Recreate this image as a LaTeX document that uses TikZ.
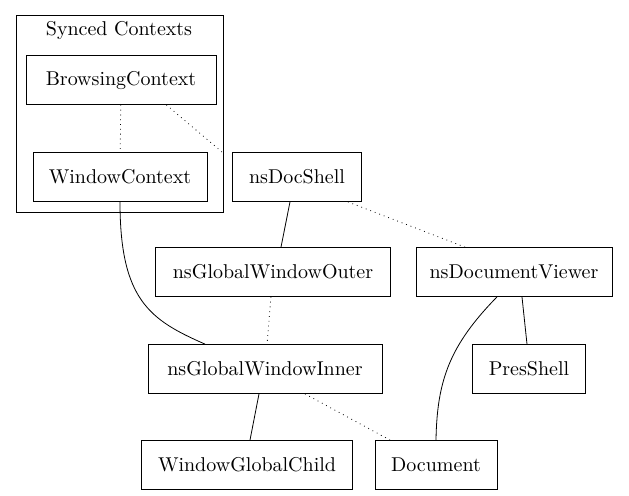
\documentclass[tikz,border=0pt]{standalone}
\usetikzlibrary{positioning}
\tikzset{
  box/.style={draw, rectangle, inner sep=0pt, minimum height=24.5pt},
  dot/.style={dotted, thin},
  solid line/.style={thin}
}
\begin{document}
\begin{tikzpicture}[x=0.5pt, y=-0.5pt]
  \useasboundingbox (0,0) rectangle (629,495);

  % cluster
  \draw (16,15) rectangle (223,212);
  \node (title) at (119,30) {Synced Contexts};

  \node[box, minimum width=95pt] (bc) at (121,80) {BrowsingContext};
  \node[box, minimum width=87pt] (wc) at (120,177) {WindowContext};
  \node[box, minimum width=64.5pt] (ds) at (297,177) {nsDocShell};
  \node[box, minimum width=117.5pt] (outer) at (273,272) {nsGlobalWindowOuter};
  \node[box, minimum width=98pt] (dv) at (514,272) {nsDocumentViewer};
  \node[box, minimum width=117pt] (inner) at (265,369) {nsGlobalWindowInner};
  \node[box, minimum width=56.5pt] (ps) at (529,369) {PresShell};
  \node[box, minimum width=105.5pt] (wgc) at (247,465) {WindowGlobalChild};
  \node[box, minimum width=61pt] (doc) at (436,465) {Document};

  \draw[dot] (bc) -- (wc);
  \draw[dot] (bc.south east) ++(-50,0) -- ([xshift=-5pt]ds.north west);
  \draw[dot] ([xshift=-7pt]ds.south east) -- (dv.north west -| 465,0);
  \draw (ds.south -| 290,0) -- (outer.north -| 281,0);
  \draw (wc.south) .. controls (120,300) and (150,320) .. (inner.north -| 205,0);
  \draw[dot] (outer) -- (inner);
  \draw (dv.south -| 497,0) .. controls (450,345) and (437,380) .. (doc.north);
  \draw (dv.south -| 522,0) -- (ps.north -| 527,0);
  \draw (inner.south -| 259,0) -- (wgc.north -| 250,0);
  \draw[dot] (inner.south -| 305,0) -- (doc.north -| 390,0);
\end{tikzpicture}
\end{document}
